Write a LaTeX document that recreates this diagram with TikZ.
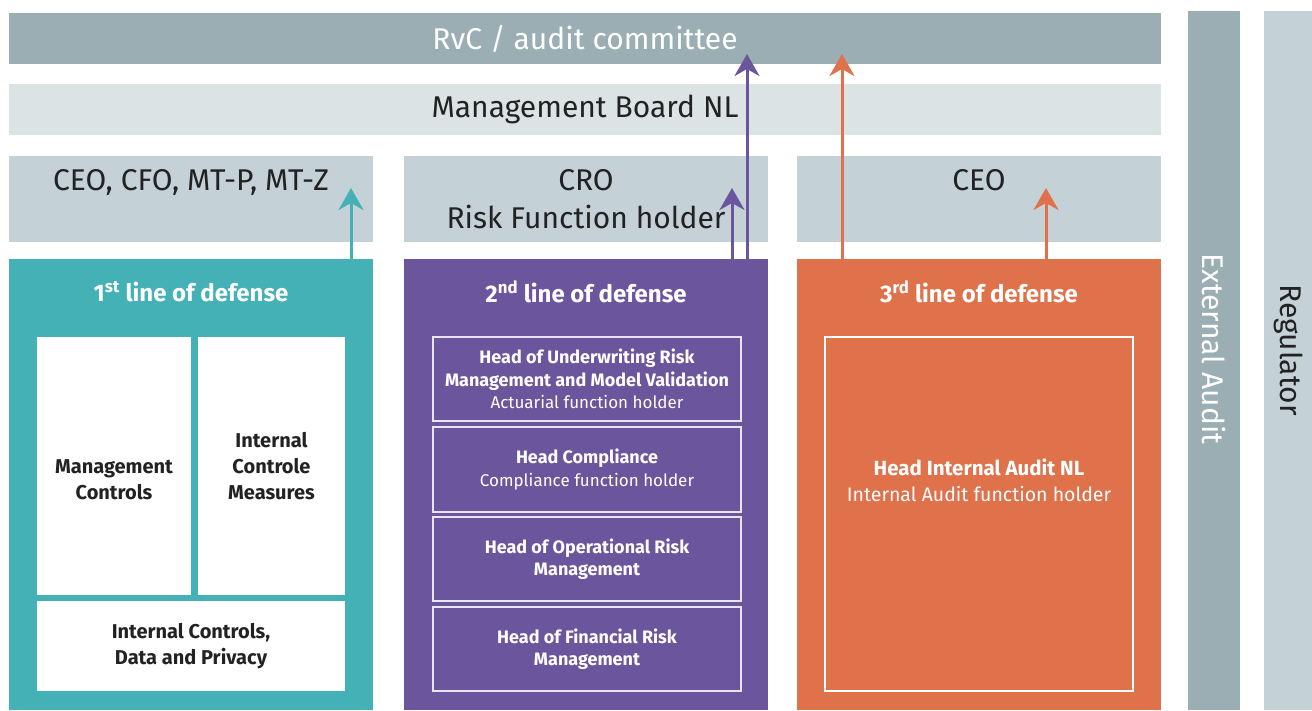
\documentclass[tikz,border=0pt]{standalone}
\usepackage{fontspec}
\setmainfont{Fira Sans}
\usetikzlibrary{arrows.meta}
\definecolor{topbar}{HTML}{9BAEB4}
\definecolor{mgmtbar}{HTML}{DCE3E5}
\definecolor{rowbar}{HTML}{C4D2D8}
\definecolor{tealc}{HTML}{43B1B5}
\definecolor{purplec}{HTML}{6B559C}
\definecolor{orangec}{HTML}{DF714B}
\definecolor{darktext}{HTML}{222222}
\newcommand{\pbfont}{\fontsize{18}{22.5}\selectfont\bfseries}
\begin{document}
\begin{tikzpicture}[x=1pt,y=-1pt,
  box/.style={anchor=north west, inner sep=0pt, outer sep=0pt, align=center},
  bigtxt/.style={font=\fontsize{30}{38}\selectfont},
  titletxt/.style={font=\fontsize{24}{28}\selectfont\bfseries, text=white},
  innerbox/.style={box, fill=white, text=darktext, font=\fontsize{20}{26}\selectfont\bfseries},
  pbox/.style={box, draw=white!85!purplec, line width=1.5pt, text=white, font=\fontsize{17}{22.5}\selectfont},
  arr/.style={line width=3pt, -{Stealth[length=22pt, width=25pt, inset=7pt]}}
]
\useasboundingbox (0,0) rectangle (1312,710);
% top bars
\node[box, fill=topbar, minimum width=1152pt, minimum height=51pt, text=white, bigtxt] (rvc) at (9,13) {RvC / audit committee};
\node[box, fill=mgmtbar, minimum width=1152pt, minimum height=51pt, text=darktext, bigtxt] (mb) at (9,84) {Management Board NL};
% row 3
\node[box, fill=rowbar, minimum width=364pt, minimum height=86pt, text=darktext, bigtxt] (ceo1) at (9,156) {CEO, CFO, MT-P, MT-Z\\\mbox{}};
\node[box, fill=rowbar, minimum width=364pt, minimum height=86pt, text=darktext, bigtxt] (cro) at (404,156) {CRO\\Risk Function holder};
\node[box, fill=rowbar, minimum width=364pt, minimum height=86pt, text=darktext, bigtxt] (ceo3) at (797,156) {CEO\\\mbox{}};
% line boxes
\node[box, fill=tealc, minimum width=364pt, minimum height=451pt] (l1) at (9,259) {};
\node[box, fill=purplec, minimum width=364pt, minimum height=451pt] (l2) at (404,259) {};
\node[box, fill=orangec, minimum width=364pt, minimum height=451pt] (l3) at (797,259) {};
\node[titletxt] (t1) at (191,292) {1\textsuperscript{st} line of defense};
\node[titletxt] (t2) at (586,292) {2\textsuperscript{nd} line of defense};
\node[titletxt] (t3) at (979,292) {3\textsuperscript{rd} line of defense};
% first line inner boxes
\node[innerbox, minimum width=154pt, minimum height=258pt] (mc) at (37,337) {};
\node[align=center, text=darktext, font=\fontsize{20}{26}\selectfont\bfseries, inner sep=0pt] (mct) at (114,480) {Management\\Controls};
\node[innerbox, minimum width=147pt, minimum height=258pt] (icm) at (198,337) {Internal\\Controle\\Measures};
\node[innerbox, minimum width=308pt, minimum height=90pt] (icd) at (37,601) {Internal Controls,\\Data and Privacy};
% second line inner boxes
\node[pbox, minimum width=308pt, minimum height=84pt] (p1) at (433,337) {{\pbfont Head of Underwriting Risk}\\{\pbfont Management and Model Validation}\\Actuarial function holder};
\node[pbox, minimum width=308pt, minimum height=85pt] (p2) at (433,427) {{\pbfont Head Compliance}\\Compliance function holder};
\node[pbox, minimum width=308pt, minimum height=84pt] (p3) at (433,517) {{\pbfont Head of Operational Risk}\\{\pbfont Management}};
\node[pbox, minimum width=308pt, minimum height=84pt] (p4) at (433,607) {{\pbfont Head of Financial Risk}\\{\pbfont Management}};
% third line inner box
\node[box, draw=white, line width=2pt, minimum width=308pt, minimum height=354pt] (ia) at (825,337) {};
\node[align=center, text=white, font=\fontsize{19.5}{26}\selectfont, inner sep=0pt] (iat) at (979,480) {{\fontsize{20.5}{26}\selectfont\bfseries Head Internal Audit NL}\\Internal Audit function holder};
% side bars
\node[box, fill=topbar, minimum width=52pt, minimum height=699pt] (ext) at (1188,11) {};
\node[box, fill=rowbar, minimum width=48pt, minimum height=699pt] (reg) at (1264,11) {};
\node[rotate=-90, text=white, bigtxt] (extt) at (1214,349) {External Audit};
\node[rotate=-90, text=darktext, bigtxt] (regt) at (1289,350) {Regulator};
% arrow end points
\coordinate (a1) at (351,188);
\coordinate (a2) at (732,188);
\coordinate (a3) at (747,54);
\coordinate (a4) at (842,54);
\coordinate (a5) at (1046,188);
\draw[arr, tealc] (l1.north -| a1) -- (a1);
\draw[arr, purplec] (l2.north -| a2) -- (a2);
\draw[arr, purplec] (l2.north -| a3) -- (a3);
\draw[arr, orangec] (l3.north -| a4) -- (a4);
\draw[arr, orangec] (l3.north -| a5) -- (a5);
\end{tikzpicture}
\end{document}
